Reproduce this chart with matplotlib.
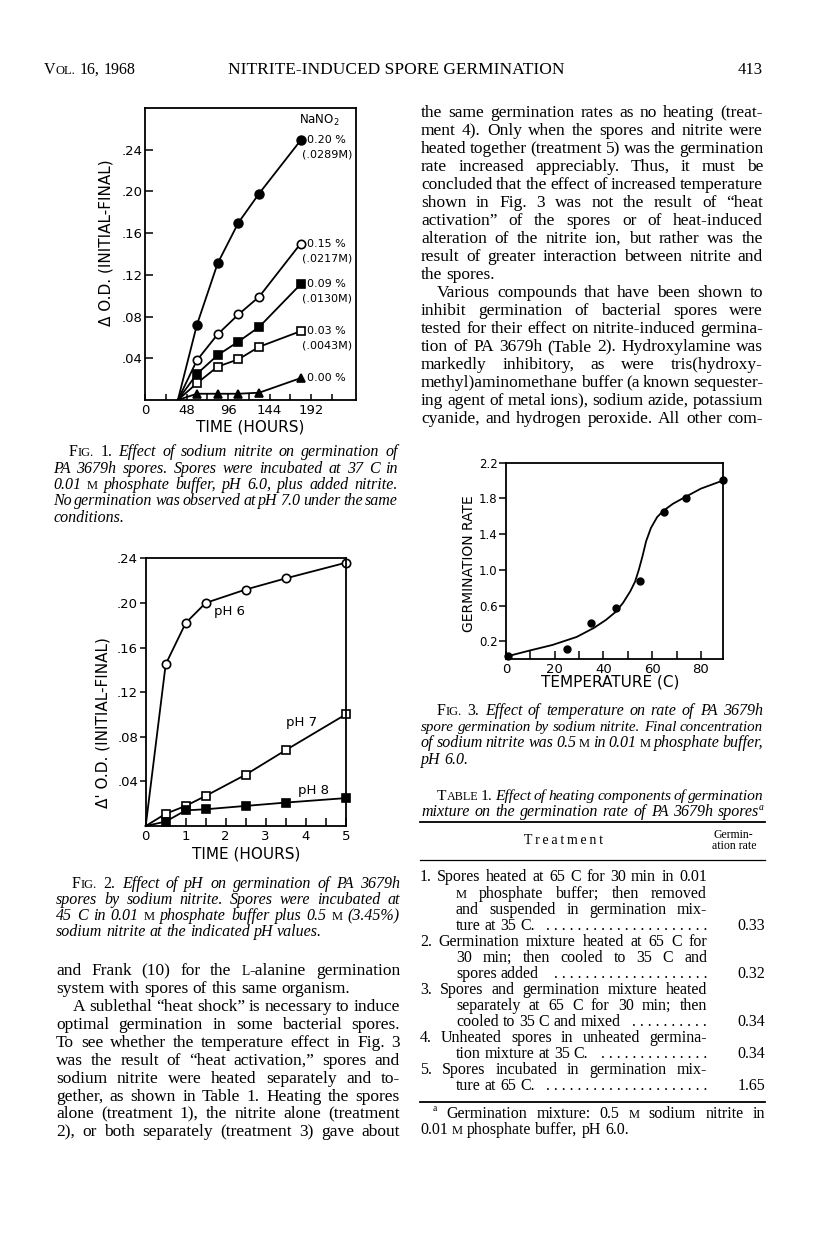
import re
import matplotlib
matplotlib.use("Agg")
import matplotlib.pyplot as plt
from matplotlib.lines import Line2D

# whole journal page, positions below are page pixels (y counted downwards)
W, H = 816, 1245
SERIF = "Liberation Serif"
SANS = "DejaVu Sans"
PT = 100 / 72  # px per point at dpi 100

# Fig. 1 - germination vs NaNO2 concentration
nitrite_hours = [60, 84, 108, 132, 180]
lag_hours = 38
od_020 = [0.072, 0.131, 0.170, 0.198, 0.249]
od_015 = [0.038, 0.063, 0.082, 0.099, 0.150]
od_009 = [0.025, 0.043, 0.056, 0.070, 0.111]
od_003 = [0.016, 0.032, 0.039, 0.051, 0.066]
od_000 = [0.006, 0.006, 0.006, 0.007, 0.021]
nitrite_pct = ["0.20 %", "0.15 %", "0.09 %", "0.03 %", "0.00 %"]
nitrite_molar = ["(.0289M)", "(.0217M)", "(.0130M)", "(.0043M)", ""]

# Fig. 2 - germination vs pH
ph_hours = [0, 0.5, 1.0, 1.5, 2.5, 3.5, 5.0]
od_ph6 = [0, 0.145, 0.182, 0.200, 0.212, 0.222, 0.236]
od_ph7 = [0, 0.011, 0.018, 0.027, 0.046, 0.068, 0.100]
od_ph8 = [0, 0.004, 0.014, 0.015, 0.018, 0.021, 0.025]
ph_names = ["pH 6", "pH 7", "pH 8"]

# Fig. 3 - rate vs temperature, points and the hand drawn curve
temp_c = [1, 25, 35, 45, 55, 65, 74, 89]
germ_rate = [0.04, 0.12, 0.41, 0.57, 0.88, 1.65, 1.81, 2.01]
fit_temp = [0, 10, 19, 29, 36, 41, 45, 48, 51, 53, 54.5, 56, 57.5, 59.5, 62, 64.5, 68.5, 72.5, 80, 89]
fit_rate = [0.03, 0.10, 0.16, 0.25, 0.35, 0.44, 0.53, 0.63, 0.76, 0.87, 1.0, 1.15, 1.32, 1.47, 1.59, 1.66, 1.74, 1.80, 1.91, 2.0]

# Table 1
treat_rate = ["0.33", "0.32", "0.34", "0.34", "1.65"]

# markup: ^x^ small caps, ~x~ upright in italic text, `x` superscript,
# leading ">" = indented line, trailing "<" = not justified
right_body = [
    "the same germination rates as no heating (treat-",
    "ment 4). Only when the spores and nitrite were",
    "heated together (treatment 5) was the germination",
    "rate increased appreciably. Thus, it must be",
    "concluded that the effect of increased temperature",
    "shown in Fig. 3 was not the result of \u201cheat",
    "activation\u201d of the spores or of heat-induced",
    "alteration of the nitrite ion, but rather was the",
    "result of greater interaction between nitrite and",
    "the spores.<",
    ">Various compounds that have been shown to",
    "inhibit germination of bacterial spores were",
    "tested for their effect on nitrite-induced germina-",
    "tion of PA 3679h (Table 2). Hydroxylamine was",
    "markedly inhibitory, as were tris(hydroxy-",
    "methyl)aminomethane buffer (a known sequester-",
    "ing agent of metal ions), sodium azide, potassium",
    "cyanide, and hydrogen peroxide. All other com-",
]
left_body = [
    "and Frank (10) for the ^L^-alanine germination",
    "system with spores of this same organism.<",
    ">A sublethal \u201cheat shock\u201d is necessary to induce",
    "optimal germination in some bacterial spores.",
    "To see whether the temperature effect in Fig. 3",
    "was the result of \u201cheat activation,\u201d spores and",
    "sodium nitrite were heated separately and to-",
    "gether, as shown in Table 1. Heating the spores",
    "alone (treatment 1), the nitrite alone (treatment",
    "2), or both separately (treatment 3) gave about",
]
cap1 = [
    ">~F~^IG.^ ~1.~ Effect of sodium nitrite on germination of",
    "PA 3679h spores. Spores were incubated at 37 C in",
    "0.01 ^M^ phosphate buffer, pH 6.0, plus added nitrite.",
    "No germination was observed at pH 7.0 under the same",
    "conditions.<",
]
cap2 = [
    ">~F~^IG.^ ~2.~ Effect of pH on germination of PA 3679h",
    "spores by sodium nitrite. Spores were incubated at",
    "45 C in 0.01 ^M^ phosphate buffer plus 0.5 ^M^ (3.45%)",
    "sodium nitrite at the indicated pH values.<",
]
cap3 = [
    ">~F~^IG.^ ~3.~ Effect of temperature on rate of PA 3679h",
    "spore germination by sodium nitrite. Final concentration",
    "of sodium nitrite was 0.5 ^M^ in 0.01 ^M^ phosphate buffer,",
    "pH 6.0.<",
]
table_title = [
    ">~T~^ABLE^ ~1.~ Effect of heating components of germination",
    "mixture on the germination rate of PA 3679h spores`a`",
]
# each treatment: first line, continuation lines, last line gets leaders
treatments = [
    ["1. Spores heated at 65 C for 30 min in 0.01", "^M^ phosphate buffer; then removed",
     "and suspended in germination mix-", "ture at 35 C."],
    ["2. Germination mixture heated at 65 C for", "30 min; then cooled to 35 C and", "spores added"],
    ["3. Spores and germination mixture heated", "separately at 65 C for 30 min; then",
     "cooled to 35 C and mixed"],
    ["4. Unheated spores in unheated germina-", "tion mixture at 35 C."],
    ["5. Spores incubated in germination mix-", "ture at 65 C."],
]
footnote = [
    ">`a` Germination mixture: 0.5 ^M^ sodium nitrite in",
    "0.01 ^M^ phosphate buffer, pH 6.0.<",
]

plt.rcParams["font.family"] = SANS
fig = plt.figure(figsize=(W / 100, H / 100), dpi=100)
fig.patch.set_facecolor("white")
renderer = fig.canvas.get_renderer()


def fx(px):
    return px / W


def fy(py):
    return 1 - py / H


MARK = re.compile(r"(\^[^^]*\^|~[^~]*~|`[^`]*`)")


def pieces(word, style):
    out = []
    for tok in MARK.split(word):
        if not tok:
            continue
        if tok[0] == "^":
            out.append((tok[1:-1], "normal", 0.78, 0.0))
        elif tok[0] == "~":
            out.append((tok[1:-1], "normal", 1.0, 0.0))
        elif tok[0] == "`":
            out.append((tok[1:-1], style, 0.6, 0.42))
        else:
            out.append((tok, style, 1.0, 0.0))
    return out


def put_line(line, x0, x1, yc, size, style="normal", justify=True):
    # words placed one by one so the line can be justified between x0 and x1
    words = line.split()
    while True:
        arts = []
        for w in words:
            parts = []
            for txt, st, k, rise in pieces(w, style):
                t = fig.text(0, 0, txt, fontsize=size * k, fontstyle=st,
                             family=SERIF, ha="left", va="baseline")
                parts.append((t, t.get_window_extent(renderer).width, rise))
            arts.append(parts)
        widths = [sum(p[1] for p in parts) for parts in arts]
        space = 0.25 * size * PT
        if not justify or len(words) < 2:
            gap = space
            break
        gap = (x1 - x0 - sum(widths)) / (len(words) - 1)
        if gap >= 0.55 * space:
            break
        for parts in arts:
            for p in parts:
                p[0].remove()
        size *= 0.97
    base = yc + 0.3 * size * PT
    x = x0
    for parts, w in zip(arts, widths):
        xx = x
        for t, pw, rise in parts:
            t.set_position((fx(xx), fy(base - rise * size * PT)))
            xx += pw
        x += w + gap
    return x - gap


def text_block(lines, x0, x1, y0, dy, size, style="normal", indent=16):
    for i, line in enumerate(lines):
        left = x0
        if line.startswith(">"):
            line = line[1:]
            left = x0 + indent
        justify = not line.endswith("<")
        put_line(line.rstrip("<"), left, x1, y0 + i * dy, size, style, justify)


def hline(y, x0, x1, lw):
    fig.add_artist(Line2D([fx(x0), fx(x1)], [fy(y), fy(y)], color="black", lw=lw))


def frame(ax):
    for s in ax.spines.values():
        s.set_linewidth(1.3)
    ax.set_facecolor("none")


BODY = 12.5
SMALL = 11.5

# ---------------- page header ----------------
put_line("V^OL.^ 16, 1968", 44, 0, 69, 11.5, justify=False)
fig.text(fx(396), fy(69 + 0.3 * 12.5 * PT), "NITRITE-INDUCED SPORE GERMINATION",
         family=SERIF, fontsize=12.5, ha="center", va="baseline")
fig.text(fx(763), fy(69 + 0.3 * 12 * PT), "413", family=SERIF, fontsize=12,
         ha="right", va="baseline")

# ---------------- Fig. 1 ----------------
ax1 = fig.add_axes([fx(145), fy(400), (356 - 145) / W, (400 - 108) / H])
frame(ax1)
series1 = [(od_020, "o", "black", 6.3), (od_015, "o", "white", 6.0),
           (od_009, "s", "black", 5.3), (od_003, "s", "white", 5.3),
           (od_000, "^", "black", 6.0)]
for (vals, mk, face, ms), pct, mol in zip(series1, nitrite_pct, nitrite_molar):
    ax1.plot([lag_hours] + nitrite_hours, [0] + vals, color="black", lw=1.3, zorder=2)
    ax1.plot(nitrite_hours, vals, ls="none", marker=mk, mfc=face, mec="black",
             mew=1.2, ms=ms, zorder=3, clip_on=False)
    ax1.text(nitrite_hours[-1] + 7, vals[-1], pct, fontsize=8, ha="left", va="center")
    if mol:
        ax1.text(nitrite_hours[-1] + 2, vals[-1] - 0.014, mol, fontsize=8,
                 ha="left", va="center")
ax1.text(202, 0.268, "NaNO$_2$", fontsize=8.5, ha="center", va="center")
ax1.set_xlim(0, 244)
ax1.set_ylim(0, 0.28)
ax1.set_xticks([0, 48, 96, 144, 192])
ax1.set_xticklabels(["0", "48", "96", "144", "192"])
ax1.set_xticks(list(range(24, 240, 48)), minor=True)
ax1.set_yticks([0.04, 0.08, 0.12, 0.16, 0.20, 0.24])
ax1.set_yticklabels([".04", ".08", ".12", ".16", ".20", ".24"])
ax1.tick_params(axis="x", which="both", direction="in", length=4.5, width=1.1,
                labelsize=9.5, pad=3)
ax1.tick_params(axis="y", direction="in", length=6, width=1.1, labelsize=9.5, pad=1.5)
fig.text(fx(250), fy(427), "TIME (HOURS)", fontsize=11, ha="center", va="center")
fig.text(fx(106), fy(243), "\u0394 O.D. (INITIAL-FINAL)", fontsize=11, rotation=90,
         ha="center", va="center")
text_block(cap1, 53, 398, 451.6, 16.3, SMALL, "italic", indent=16)

# ---------------- Fig. 2 ----------------
ax2 = fig.add_axes([fx(145.7), fy(826), 200 / W, (826 - 558.3) / H])
frame(ax2)
series2 = [(od_ph6, "o", "white", 6.0), (od_ph7, "s", "white", 5.3),
           (od_ph8, "s", "black", 5.3)]
for vals, mk, face, ms in series2:
    ax2.plot(ph_hours, vals, color="black", lw=1.3, marker=mk, mfc=face, mec="black",
             mew=1.2, ms=ms, markevery=list(range(1, len(ph_hours))), clip_on=False)
for name, (tx, ty) in zip(ph_names, [(1.72, 0.192), (3.52, 0.093), (3.8, 0.032)]):
    ax2.text(tx, ty, name, fontsize=9.5, ha="left", va="center")
ax2.set_xlim(0, 5)
ax2.set_ylim(0, 0.24)
ax2.set_xticks([0, 1, 2, 3, 4, 5])
ax2.set_xticks([0.5, 1.5, 2.5, 3.5, 4.5], minor=True)
ax2.set_yticks([0.04, 0.08, 0.12, 0.16, 0.20, 0.24])
ax2.set_yticklabels([".04", ".08", ".12", ".16", ".20", ".24"])
ax2.tick_params(axis="x", which="both", direction="in", length=5.5, width=1.1,
                labelsize=9.5, pad=3)
ax2.tick_params(axis="y", direction="out", length=4.5, width=1.1, labelsize=9.5, pad=1)
fig.text(fx(246), fy(854), "TIME (HOURS)", fontsize=11, ha="center", va="center")
fig.text(fx(103), fy(723), "\u0394' O.D. (INITIAL-FINAL)", fontsize=11, rotation=90,
         ha="center", va="center")
text_block(cap2, 56, 400, 883.3, 16.1, SMALL, "italic", indent=16)
text_block(left_body, 56, 400, 970, 17.9, BODY, "normal", indent=17)

# ---------------- right column text ----------------
text_block(right_body, 421, 763, 111.7, 18.0, BODY, "normal", indent=16)

# ---------------- Fig. 3 ----------------
ax3 = fig.add_axes([fx(506), fy(659.3), (723.3 - 506) / W, (659.3 - 462.7) / H])
frame(ax3)
ax3.plot(fit_temp, fit_rate, color="black", lw=1.3)
ax3.plot(temp_c, germ_rate, ls="none", marker="o", color="black", ms=5, clip_on=False)
ax3.set_xlim(0, 89.2)
ax3.set_ylim(0, 2.2)
ax3.set_xticks([0, 20, 40, 60, 80])
ax3.set_xticks([10, 30, 50, 70], minor=True)
ax3.set_yticks([0.2, 0.6, 1.0, 1.4, 1.8, 2.2])
ax3.set_yticklabels(["0.2", "0.6", "1.0", "1.4", "1.8", "2.2"])
ax3.tick_params(axis="x", which="both", direction="in", length=6, width=1.1,
                labelsize=9.5, pad=2.5)
ax3.tick_params(axis="y", direction="out", length=5, width=1.1, labelsize=8.5, pad=1)
fig.text(fx(610), fy(682), "TEMPERATURE (C)", fontsize=11, ha="center", va="center")
fig.text(fx(469), fy(564), "GERMINATION RATE", fontsize=10, rotation=90,
         ha="center", va="center")
text_block(cap3, 421, 763, 710, 16.3, SMALL, "italic", indent=16)

# ---------------- Table 1 ----------------
text_block(table_title, 421, 764, 795.5, 16.2, SMALL, "italic", indent=16)
hline(821.7, 420, 765, 1.3)
fig.text(fx(563), fy(840.7), "T r e a t m e n t".replace(" ", "\u2009"), family=SERIF,
         fontsize=10, ha="center", va="center")
fig.text(fx(733), fy(835), "Germin-", family=SERIF, fontsize=8.5, ha="center", va="center")
fig.text(fx(734), fy(845.7), "ation rate", family=SERIF, fontsize=8.5,
         ha="center", va="center")
hline(860, 420, 765, 0.9)

row_y = 876.7
row_dy = 16.03
dot_t = fig.text(0, 0, ". " * 19 + ".", family=SERIF, fontsize=SMALL)
one_dot = fig.text(0, 0, ".", family=SERIF, fontsize=SMALL)
dot_unit = (dot_t.get_window_extent(renderer).width
            - one_dot.get_window_extent(renderer).width) / 19
dot_t.remove()
one_dot.remove()
for lines, rate in zip(treatments, treat_rate):
    for j, line in enumerate(lines):
        left = 420 if j == 0 else 456
        if j < len(lines) - 1:
            put_line(line, left, 707, row_y, SMALL)
        else:
            xend = put_line(line, left, 707, row_y, SMALL, justify=False)
            n = int((707 - xend - 3) / dot_unit)
            if n > 0:
                fig.text(fx(707), fy(row_y + 0.3 * SMALL * PT), ". " * (n - 1) + ".",
                         family=SERIF, fontsize=SMALL, ha="right", va="baseline")
            fig.text(fx(765), fy(row_y + 0.3 * SMALL * PT), rate, family=SERIF,
                     fontsize=SMALL, ha="right", va="baseline")
        row_y += row_dy
hline(1101.7, 420, 765, 1.3)
text_block(footnote, 420, 765, 1113.3, 16.0, SMALL, "normal", indent=13)

fig.savefig("out.png", dpi=100, facecolor="white")
